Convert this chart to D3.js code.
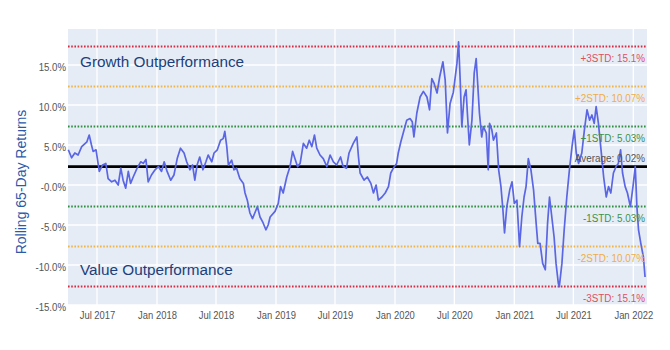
<!DOCTYPE html>
<html><head><meta charset="utf-8">
<script src="https://cdn.jsdelivr.net/npm/d3@7"></script>
<style>body{margin:0;background:#fff}svg{display:block}</style>
</head><body><svg id="c" width="670" height="350"></svg>
<script>
// ---- data ----
const dates = ["2017-04-04","2017-04-14","2017-04-24","2017-05-04","2017-05-15","2017-05-31","2017-06-07","2017-06-14","2017-06-19","2017-06-28",
"2017-07-08","2017-07-18","2017-07-28","2017-08-04","2017-08-15","2017-08-25","2017-09-04","2017-09-12","2017-09-19","2017-09-27",
"2017-10-05","2017-10-12","2017-10-20","2017-11-01","2017-11-12","2017-11-20","2017-11-28","2017-12-05","2017-12-15","2017-12-26",
"2018-01-05","2018-01-15","2018-01-23","2018-02-01","2018-02-12","2018-02-22","2018-03-04","2018-03-14","2018-03-25","2018-04-02",
"2018-04-12","2018-04-20","2018-04-27","2018-05-04","2018-05-12","2018-05-22","2018-05-31","2018-06-07","2018-06-18","2018-06-25",
"2018-07-05","2018-07-15","2018-07-23","2018-07-28","2018-08-03","2018-08-08","2018-08-18","2018-08-25","2018-09-02","2018-09-12",
"2018-09-23","2018-09-28","2018-10-05","2018-10-13","2018-10-21","2018-10-28","2018-11-05","2018-11-13","2018-11-21","2018-12-01",
"2018-12-08","2018-12-14","2018-12-29","2019-01-08","2019-01-15","2019-01-23","2019-02-03","2019-02-13","2019-02-21","2019-02-28",
"2019-03-08","2019-03-16","2019-03-26","2019-04-05","2019-04-13","2019-04-21","2019-04-29","2019-05-06","2019-05-16","2019-05-26",
"2019-06-06","2019-06-16","2019-06-26","2019-07-06","2019-07-18","2019-07-26","2019-08-05","2019-08-13","2019-08-26","2019-09-06",
"2019-09-11","2019-09-16","2019-09-28","2019-10-08","2019-10-19","2019-10-27","2019-11-04","2019-11-11","2019-11-22","2019-12-02",
"2019-12-12","2019-12-19","2019-12-27","2020-01-06","2020-01-11","2020-01-19","2020-01-29","2020-02-06","2020-02-16","2020-02-23",
"2020-02-28","2020-03-08","2020-03-18","2020-03-28","2020-04-08","2020-04-16","2020-04-23","2020-04-30","2020-05-09","2020-05-17",
"2020-05-27","2020-06-03","2020-06-10","2020-06-18","2020-06-28","2020-07-09","2020-07-14","2020-07-19","2020-07-24","2020-07-31",
"2020-08-06","2020-08-10","2020-08-16","2020-08-24","2020-08-31","2020-09-06","2020-09-10","2020-09-16","2020-09-23","2020-09-28",
"2020-10-07","2020-10-13","2020-10-17","2020-10-24","2020-10-29","2020-11-07","2020-11-14","2020-11-21","2020-11-27","2020-12-02",
"2020-12-09","2020-12-18","2020-12-25","2021-01-01","2021-01-09","2021-01-17","2021-01-24","2021-01-31","2021-02-06","2021-02-13",
"2021-02-21","2021-03-01","2021-03-09","2021-03-14","2021-03-21","2021-03-29","2021-04-06","2021-04-13","2021-04-19","2021-04-26",
"2021-05-03","2021-05-09","2021-05-16","2021-05-19","2021-05-27","2021-06-03","2021-06-11","2021-06-19","2021-06-27","2021-07-04",
"2021-07-10","2021-07-17","2021-07-27","2021-08-04","2021-08-12","2021-08-20","2021-08-27","2021-09-03","2021-09-09","2021-09-16",
"2021-09-24","2021-10-02","2021-10-10","2021-10-17","2021-10-24","2021-11-01","2021-11-09","2021-11-16","2021-11-23","2021-11-29",
"2021-12-07","2021-12-14","2021-12-23","2021-12-31","2022-01-07","2022-01-12","2022-01-17","2022-01-24","2022-02-01","2022-02-06"];
const returns = [4.4,3.4,4.0,3.75,4.8,5.4,6.25,5.0,4.2,4.4,
1.7,2.5,2.7,0.8,0.4,0.6,0.0,2.1,0.6,-0.4,
1.7,0.2,1.0,2.1,2.9,2.7,3.2,0.4,1.25,1.9,
2.3,1.7,2.9,1.7,0.6,1.25,3.3,4.6,4.0,2.9,
1.9,2.5,0.6,2.5,3.5,1.9,2.9,3.75,2.9,4.0,
4.4,5.6,5.8,6.7,4.8,2.5,3.1,1.9,2.1,0.8,
0.2,-1.0,-1.9,-3.5,-4.2,-3.5,-2.7,-4.0,-4.6,-5.6,
-5.0,-4.0,-3.3,-2.3,-0.2,-1.0,1.0,2.3,4.2,3.3,
2.3,2.7,5.2,4.6,5.6,4.8,6.25,4.6,3.75,3.3,
2.3,3.75,2.9,2.5,3.5,2.3,2.1,4.0,5.2,6.0,
3.5,1.5,0.6,1.0,0.2,-1.0,0.0,-1.9,-1.5,-1.0,
-0.2,1.5,2.1,2.7,4.0,5.4,6.9,8.1,8.3,7.9,
6.0,9.0,11.0,11.7,11.0,9.4,13.3,12.7,11.5,13.5,
15.4,13.1,6.5,10.2,11.6,15.2,17.9,13.1,7.3,11.0,
11.9,9.0,5.0,8.1,14.0,15.8,13.1,9.0,6.0,7.3,
6.5,1.9,7.7,6.9,5.6,6.5,1.9,-0.2,-3.1,-6.0,
-2.7,-0.6,0.4,-2.3,-1.9,-7.7,-4.0,-1.5,-0.2,3.3,
1.9,-0.6,-4.8,-7.3,-7.3,-9.8,-10.6,-4.8,-1.5,-4.0,
-6.5,-9.8,-12.3,-12.7,-9.8,-5.6,-1.5,1.9,4.8,6.9,
4.0,2.7,4.0,6.9,9.4,8.1,8.75,7.7,9.8,7.7,
4.4,1.0,-1.5,-0.2,-1.0,1.5,2.3,2.7,4.4,1.5,
-0.2,-1.0,-2.7,-0.2,2.3,-2.7,-5.6,-7.3,-9.0,-11.5];
const yTicks = [15,10,5,0,-5,-10,-15];
const yTickLabels = ["15.0%","10.0%","5.0%","-0.0%","-5.0%","-10.0%","-15.0%"];
const xTicks = ["2017-07-01","2018-01-01","2018-07-01","2019-01-01","2019-07-01","2020-01-01","2020-07-01","2021-01-01","2021-07-01","2022-01-01"];
const xTickLabels = ["Jul 2017","Jan 2018","Jul 2018","Jan 2019","Jul 2019","Jan 2020","Jul 2020","Jan 2021","Jul 2021","Jan 2022"];
const bandKeys = ["p3","p2","p1","avg","m1","m2","m3"];
const bandValues = [17.3,12.3,7.3,2.3,-2.7,-7.7,-12.7];
const bandLabels = ["+3STD: 15.1%","+2STD: 10.07%","+1STD: 5.03%","Average: 0.02%","-1STD: 5.03%","-2STD: 10.07%","-3STD: 15.1%"];
const yTitle = "Rolling 65-Day Returns";
const noteTop = "Growth Outperformance";
const noteBottom = "Value Outperformance";

// ---- styles ----
const lineStyle = {p3:"#d92b3f",p2:"#f0b546",p1:"#2f8f3f",avg:"#000",m1:"#2f8f3f",m2:"#f0b546",m3:"#d92b3f"};
const textStyle = {p3:"#e0505c",p2:"#f0ac45",p1:"#3c9249",avg:"#555",m1:"#3c9249",m2:"#f0ac45",m3:"#e0505c"};

const parse = d3.timeParse("%Y-%m-%d");
const svg = d3.select("#c");
const L=68, R=647, T=29, B=305;
const x = d3.scaleTime().domain([parse("2017-04-03"), parse("2022-02-12")]).range([L,R]);
const y = d3.scaleLinear().domain([-15,19.5]).range([B,T]);

svg.append("rect").attr("x",L).attr("y",T).attr("width",R-L).attr("height",B-T).attr("fill","#e5ecf6");

// gridlines
svg.append("g").selectAll("line").data(yTicks).join("line")
  .attr("x1",L).attr("x2",R).attr("y1",d=>y(d)).attr("y2",d=>y(d))
  .attr("stroke","#fff").attr("stroke-width",1.3);
svg.append("g").selectAll("line").data(xTicks).join("line")
  .attr("x1",d=>x(parse(d))).attr("x2",d=>x(parse(d))).attr("y1",T).attr("y2",B)
  .attr("stroke","#fff").attr("stroke-width",1.3);

// std lines
bandKeys.forEach((k,i)=>{
  const ln = svg.append("line").attr("x1",L).attr("x2",R)
    .attr("y1",y(bandValues[i])).attr("y2",y(bandValues[i]))
    .attr("stroke",lineStyle[k]);
  if(k==="avg") ln.attr("stroke-width",2.6);
  else ln.attr("stroke-width",2).attr("stroke-dasharray","1.6,1.6");
});

// series
const data = dates.map((d,i)=>({d:parse(d),v:returns[i]}));
svg.append("path").datum(data)
  .attr("fill","none").attr("stroke","#5a66e3").attr("stroke-width",1.7).attr("stroke-linejoin","round")
  .attr("d",d3.line().x(d=>x(d.d)).y(d=>y(d.v)));

// band labels
bandKeys.forEach((k,i)=>{
  const yy = y(bandValues[i]) + (k==="avg" ? -5 : 15);
  svg.append("text").attr("transform",`translate(645,${yy}) scale(0.86,1)`)
    .attr("text-anchor","end").attr("font-family","Liberation Sans, Arial, sans-serif")
    .attr("font-size",11.5).attr("fill",textStyle[k]).text(bandLabels[i]);
});

// axes
const ya = svg.append("g").attr("transform",`translate(${L},0)`)
  .call(d3.axisLeft(y).tickValues(yTicks).tickSize(0).tickPadding(0).tickFormat((d,i)=>yTickLabels[i]));
ya.select(".domain").remove();
ya.selectAll("text").attr("font-family","Liberation Sans, Arial, sans-serif").attr("font-size",11.5)
  .attr("fill","#555").attr("x",0).attr("dy","0.35em").attr("transform","translate(-2,1) scale(0.84,1)");

const xa = svg.append("g").attr("transform",`translate(0,${B})`)
  .call(d3.axisBottom(x).tickValues(xTicks.map(parse)).tickSize(0).tickPadding(0).tickFormat((d,i)=>xTickLabels[i]));
xa.select(".domain").remove();
xa.selectAll("text").attr("font-family","Liberation Sans, Arial, sans-serif").attr("font-size",11.5)
  .attr("fill","#555").attr("y",0).attr("dy","0").attr("transform","translate(0,14) scale(0.82,1)");

// titles
svg.append("text").attr("transform","translate(26,182) rotate(-90)").attr("text-anchor","middle")
  .attr("font-family","Liberation Sans, Arial, sans-serif").attr("font-size",14).attr("fill","#2d5aa8").text(yTitle);
svg.append("text").attr("x",80).attr("y",67).attr("font-family","Liberation Sans, Arial, sans-serif")
  .attr("font-size",15.3).attr("fill","#203f7a").text(noteTop);
svg.append("text").attr("x",80).attr("y",275).attr("font-family","Liberation Sans, Arial, sans-serif")
  .attr("font-size",15.3).attr("fill","#203f7a").text(noteBottom);
</script></body></html>
